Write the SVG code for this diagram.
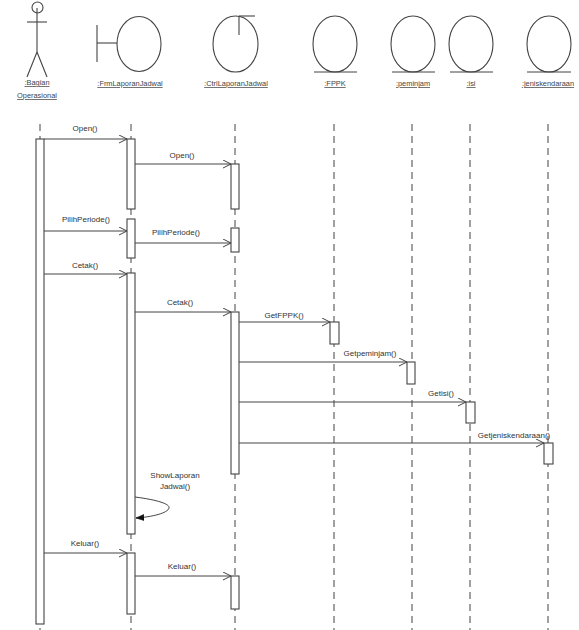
<svg xmlns="http://www.w3.org/2000/svg" width="579" height="630" viewBox="0 0 579 630">
<style>
.sym{fill:none;stroke:#444;stroke-width:1.1}
.life{stroke:#555;stroke-width:1.1;stroke-dasharray:7 5;fill:none}
.bar{fill:#fff;stroke:#444;stroke-width:1.1}
.msg{stroke:#444;stroke-width:1;fill:none}
.lbl{font-family:"Liberation Sans",Arial,sans-serif;font-size:7.4px;fill:#444;text-anchor:middle;text-decoration:underline}
.mt{font-family:"Liberation Sans",Arial,sans-serif;font-size:8px;fill:#333;text-anchor:middle}
</style>
<defs>
<marker id="open" markerUnits="userSpaceOnUse" markerWidth="10" markerHeight="10" refX="8" refY="4" orient="auto">
<path d="M0,0 L8,4 L0,8" fill="none" stroke="#444" stroke-width="1"/>
</marker>
<marker id="filled" markerUnits="userSpaceOnUse" markerWidth="10" markerHeight="10" refX="8" refY="3" orient="auto">
<path d="M0,0 L8,3 L0,6 Z" fill="#111" stroke="#111" stroke-width="0.6"/>
</marker>
</defs>
<rect width="579" height="630" fill="#fff"/>
<g id="lifelines">
<line class="life" x1="40" y1="124" x2="40" y2="630"/>
<line class="life" x1="131" y1="124" x2="131" y2="630"/>
<line class="life" x1="235" y1="124" x2="235" y2="630"/>
<line class="life" x1="334" y1="124" x2="334" y2="630"/>
<line class="life" x1="412" y1="124" x2="412" y2="630"/>
<line class="life" x1="470" y1="124" x2="470" y2="630"/>
<line class="life" x1="548" y1="124" x2="548" y2="630"/>
</g>
<g id="actor-bagian">
<circle class="sym" cx="37.5" cy="7.5" r="5.5"/>
<line class="sym" x1="37" y1="8" x2="37" y2="52"/>
<line class="sym" x1="27" y1="22" x2="47" y2="22"/>
<line class="sym" x1="37" y1="52" x2="27" y2="77"/>
<line class="sym" x1="37" y1="52" x2="47" y2="77"/>
<text class="lbl" x="37" y="85">:Bagian</text>
<text class="lbl" x="37" y="98">Operasional</text>
<rect class="bar" x="36" y="139" width="8" height="485"/>
</g>
<g id="frm">
<line class="sym" x1="97" y1="25" x2="97" y2="62"/>
<line class="sym" x1="97" y1="43" x2="117" y2="43"/>
<ellipse class="sym" cx="139" cy="44" rx="22" ry="27.5"/>
<text class="lbl" x="130" y="86">:FrmLaporanJadwal</text>
<rect class="bar" x="127" y="139" width="8" height="70"/>
<rect class="bar" x="127" y="219" width="8" height="39"/>
<rect class="bar" x="127" y="273" width="8" height="261"/>
<rect class="bar" x="127" y="553" width="8" height="61"/>
</g>
<g id="ctrl">
<ellipse class="sym" cx="235.5" cy="44" rx="22.5" ry="28"/>
<line class="sym" x1="239" y1="16" x2="255" y2="16"/>
<line class="sym" x1="239" y1="16" x2="239" y2="35"/>
<text class="lbl" x="236" y="86">:CtrlLaporanJadwal</text>
<rect class="bar" x="231" y="164" width="8" height="45"/>
<rect class="bar" x="231" y="228" width="8" height="24"/>
<rect class="bar" x="231" y="312" width="8" height="162"/>
<rect class="bar" x="231" y="576" width="8" height="33"/>
</g>
<g id="fppk">
<ellipse class="sym" cx="335" cy="44" rx="22" ry="28"/>
<line class="sym" x1="314" y1="72" x2="357" y2="72"/>
<text class="lbl" x="335" y="86">:FPPK</text>
<rect class="bar" x="330" y="322" width="9" height="22"/>
</g>
<g id="peminjam">
<ellipse class="sym" cx="413" cy="44" rx="22" ry="28"/>
<line class="sym" x1="392" y1="72" x2="435" y2="72"/>
<text class="lbl" x="413" y="86">:peminjam</text>
<rect class="bar" x="407" y="362" width="8" height="22"/>
</g>
<g id="isi">
<ellipse class="sym" cx="471" cy="44" rx="22" ry="28"/>
<line class="sym" x1="450" y1="72" x2="493" y2="72"/>
<text class="lbl" x="471" y="86">:isi</text>
<rect class="bar" x="466" y="402" width="9" height="21"/>
</g>
<g id="jeniskendaraan">
<ellipse class="sym" cx="549" cy="44" rx="22" ry="28"/>
<line class="sym" x1="527" y1="72" x2="571" y2="72"/>
<text class="lbl" x="548" y="86">:jeniskendaraan</text>
<rect class="bar" x="544" y="443" width="9" height="21"/>
</g>
<g id="connectors">
<line class="msg" x1="44" y1="139" x2="127" y2="139" marker-end="url(#open)"/>
<text class="mt" x="85" y="131">Open()</text>
<line class="msg" x1="135" y1="164" x2="231" y2="164" marker-end="url(#open)"/>
<text class="mt" x="182" y="158">Open()</text>
<line class="msg" x1="44" y1="231" x2="127" y2="231" marker-end="url(#open)"/>
<text class="mt" x="86" y="222">PilihPeriode()</text>
<line class="msg" x1="135" y1="243" x2="231" y2="243" marker-end="url(#open)"/>
<text class="mt" x="176" y="235">PilihPeriode()</text>
<line class="msg" x1="44" y1="274" x2="127" y2="274" marker-end="url(#open)"/>
<text class="mt" x="85" y="268">Cetak()</text>
<line class="msg" x1="135" y1="312" x2="231" y2="312" marker-end="url(#open)"/>
<text class="mt" x="180" y="305">Cetak()</text>
<line class="msg" x1="239" y1="322" x2="330" y2="322" marker-end="url(#open)"/>
<text class="mt" x="284" y="318">GetFPPK()</text>
<line class="msg" x1="239" y1="362" x2="407" y2="362" marker-end="url(#open)"/>
<text class="mt" x="370" y="356">Getpeminjam()</text>
<line class="msg" x1="239" y1="402" x2="466" y2="402" marker-end="url(#open)"/>
<text class="mt" x="441" y="396">Getisi()</text>
<line class="msg" x1="239" y1="443" x2="544" y2="443" marker-end="url(#open)"/>
<text class="mt" x="514" y="438">Getjeniskendaraan()</text>
<path class="msg" d="M135,497 C158,500 170,504 169,508 C168,513 152,517 136,518" marker-end="url(#filled)"/>
<text class="mt" x="175" y="478">ShowLaporan</text>
<text class="mt" x="175" y="489">Jadwal()</text>
<line class="msg" x1="44" y1="553" x2="127" y2="553" marker-end="url(#open)"/>
<text class="mt" x="85" y="546">Keluar()</text>
<line class="msg" x1="135" y1="576" x2="231" y2="576" marker-end="url(#open)"/>
<text class="mt" x="182" y="569">Keluar()</text>
</g>
</svg>
